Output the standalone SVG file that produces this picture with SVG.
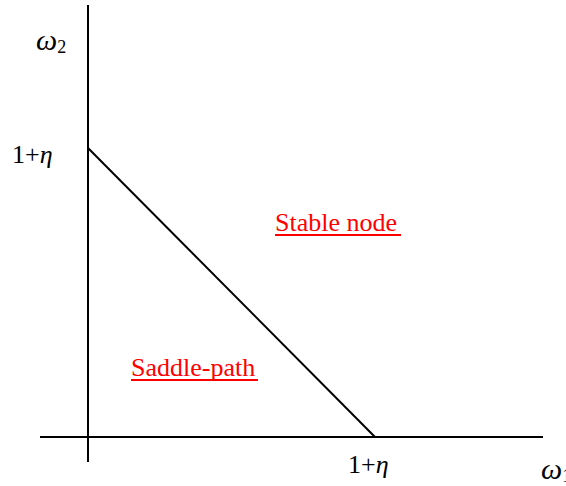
<svg xmlns="http://www.w3.org/2000/svg" width="566" height="486" viewBox="0 0 566 486">
<style>
.ax{stroke:#000;stroke-width:2;fill:none}
.t{font-family:"Liberation Serif","Times New Roman",serif;font-size:26px;fill:#000}
.i{font-style:italic}
.r{font-family:"Liberation Serif","Times New Roman",serif;font-size:26px;fill:#f00}
.u{stroke:#f00;stroke-width:2}
</style>
<rect width="566" height="486" fill="#fff"/>
<g id="connectors">
<line class="ax" x1="88" y1="5" x2="88" y2="462"/>
<line class="ax" x1="40" y1="437" x2="543" y2="437"/>
<line class="ax" x1="88" y1="148" x2="375" y2="437"/>
</g>
<g id="label-w2"><text class="t" x="36" y="50"><tspan class="i" font-size="30">ω</tspan><tspan font-size="18" dy="3">2</tspan></text></g>
<g id="label-eta-y"><text class="t" x="12" y="163">1+<tspan class="i">η</tspan></text></g>
<g id="label-eta-x"><text class="t" x="348" y="473">1+<tspan class="i">η</tspan></text></g>
<g id="label-w1"><text class="t" x="541" y="479"><tspan class="i" font-size="30">ω</tspan><tspan font-size="18" dy="3">1</tspan></text></g>
<g id="stable-node"><text class="r" x="275" y="231">Stable node</text><line class="u" x1="275" y1="235" x2="401" y2="235"/></g>
<g id="saddle-path"><text class="r" x="131" y="376">Saddle-path</text><line class="u" x1="131" y1="380" x2="258" y2="380"/></g>
</svg>
